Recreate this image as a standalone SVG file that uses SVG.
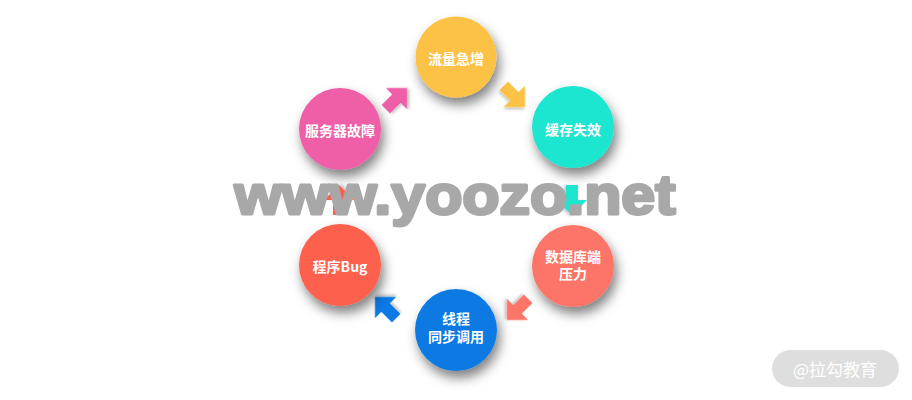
<svg xmlns="http://www.w3.org/2000/svg" xmlns:xlink="http://www.w3.org/1999/xlink" width="912" height="400" viewBox="0 0 912 400">
<defs>
<filter id="sh" x="-50%" y="-50%" width="200%" height="200%">
<feDropShadow dx="3" dy="7" stdDeviation="6" flood-color="#000" flood-opacity="0.5"/>
</filter>
<filter id="ash" x="-50%" y="-50%" width="200%" height="200%">
<feDropShadow dx="1" dy="2" stdDeviation="1.5" flood-color="#000" flood-opacity="0.25"/>
</filter>
<path id="arr" d="M0,-6 H15 V-15 L30,0 L15,15 V6 H0 Z"/>
</defs>
<style>
.lbl{font-family:"Noto Sans CJK SC","Noto Sans",sans-serif;font-weight:bold;font-size:14px;fill:#fff;text-anchor:middle}
.c{filter:url(#sh)}
.a{filter:url(#ash)}
</style>
<rect width="912" height="400" fill="#fff"/>
<g id="connectors">
<use xlink:href="#arr" class="a" fill="#fcc244" transform="translate(503.8,85.8) rotate(45)"/>
<use xlink:href="#arr" class="a" fill="#1ae6d0" transform="translate(572,185) rotate(90)"/>
<use xlink:href="#arr" class="a" fill="#fd7568" transform="translate(528.2,298.8) rotate(135)"/>
<use xlink:href="#arr" class="a" fill="#0b79e3" transform="translate(396.2,318.2) rotate(-135)"/>
<use xlink:href="#arr" class="a" fill="#fd614d" transform="translate(339,215) rotate(-90)"/>
<use xlink:href="#arr" class="a" fill="#ee5fa7" transform="translate(385.8,109.2) rotate(-45)"/>
</g>
<g id="n1"><circle class="c" cx="456" cy="57" r="40.5" fill="#fcc244"/><text class="lbl" x="456" y="64">流量急增</text></g>
<g id="n2"><circle class="c" cx="573" cy="127" r="41" fill="#1ae6d0"/><text class="lbl" x="573" y="135">缓存失效</text></g>
<g id="n3"><circle class="c" cx="573" cy="266" r="41" fill="#fd7568"/><text class="lbl" x="573" y="262">数据库端</text><text class="lbl" x="573" y="279">压力</text></g>
<g id="n4"><circle class="c" cx="456" cy="330" r="41" fill="#0b79e3"/><text class="lbl" x="456" y="324">线程</text><text class="lbl" x="456" y="342">同步调用</text></g>
<g id="n5"><circle class="c" cx="340" cy="265" r="41" fill="#fd614d"/><text class="lbl" x="340" y="272">程序Bug</text></g>
<g id="n6"><circle class="c" cx="340" cy="129" r="41" fill="#ee5fa7"/><text class="lbl" x="340" y="136">服务器故障</text></g>
<text x="234.5" y="213.5" font-family="Liberation Sans, Arial, sans-serif" font-weight="bold" font-size="56" fill="#a8a8a8" stroke="#a8a8a8" stroke-width="3" stroke-linejoin="round" textLength="441" lengthAdjust="spacingAndGlyphs">www.yoozo.net</text>
<g id="logo">
<rect x="772" y="350" width="127" height="37" rx="18.5" fill="#dedede"/>
<text x="835" y="376" font-family="Noto Sans CJK SC, Noto Sans, sans-serif" font-size="17" fill="#fff" text-anchor="middle">@拉勾教育</text>
</g>
</svg>
